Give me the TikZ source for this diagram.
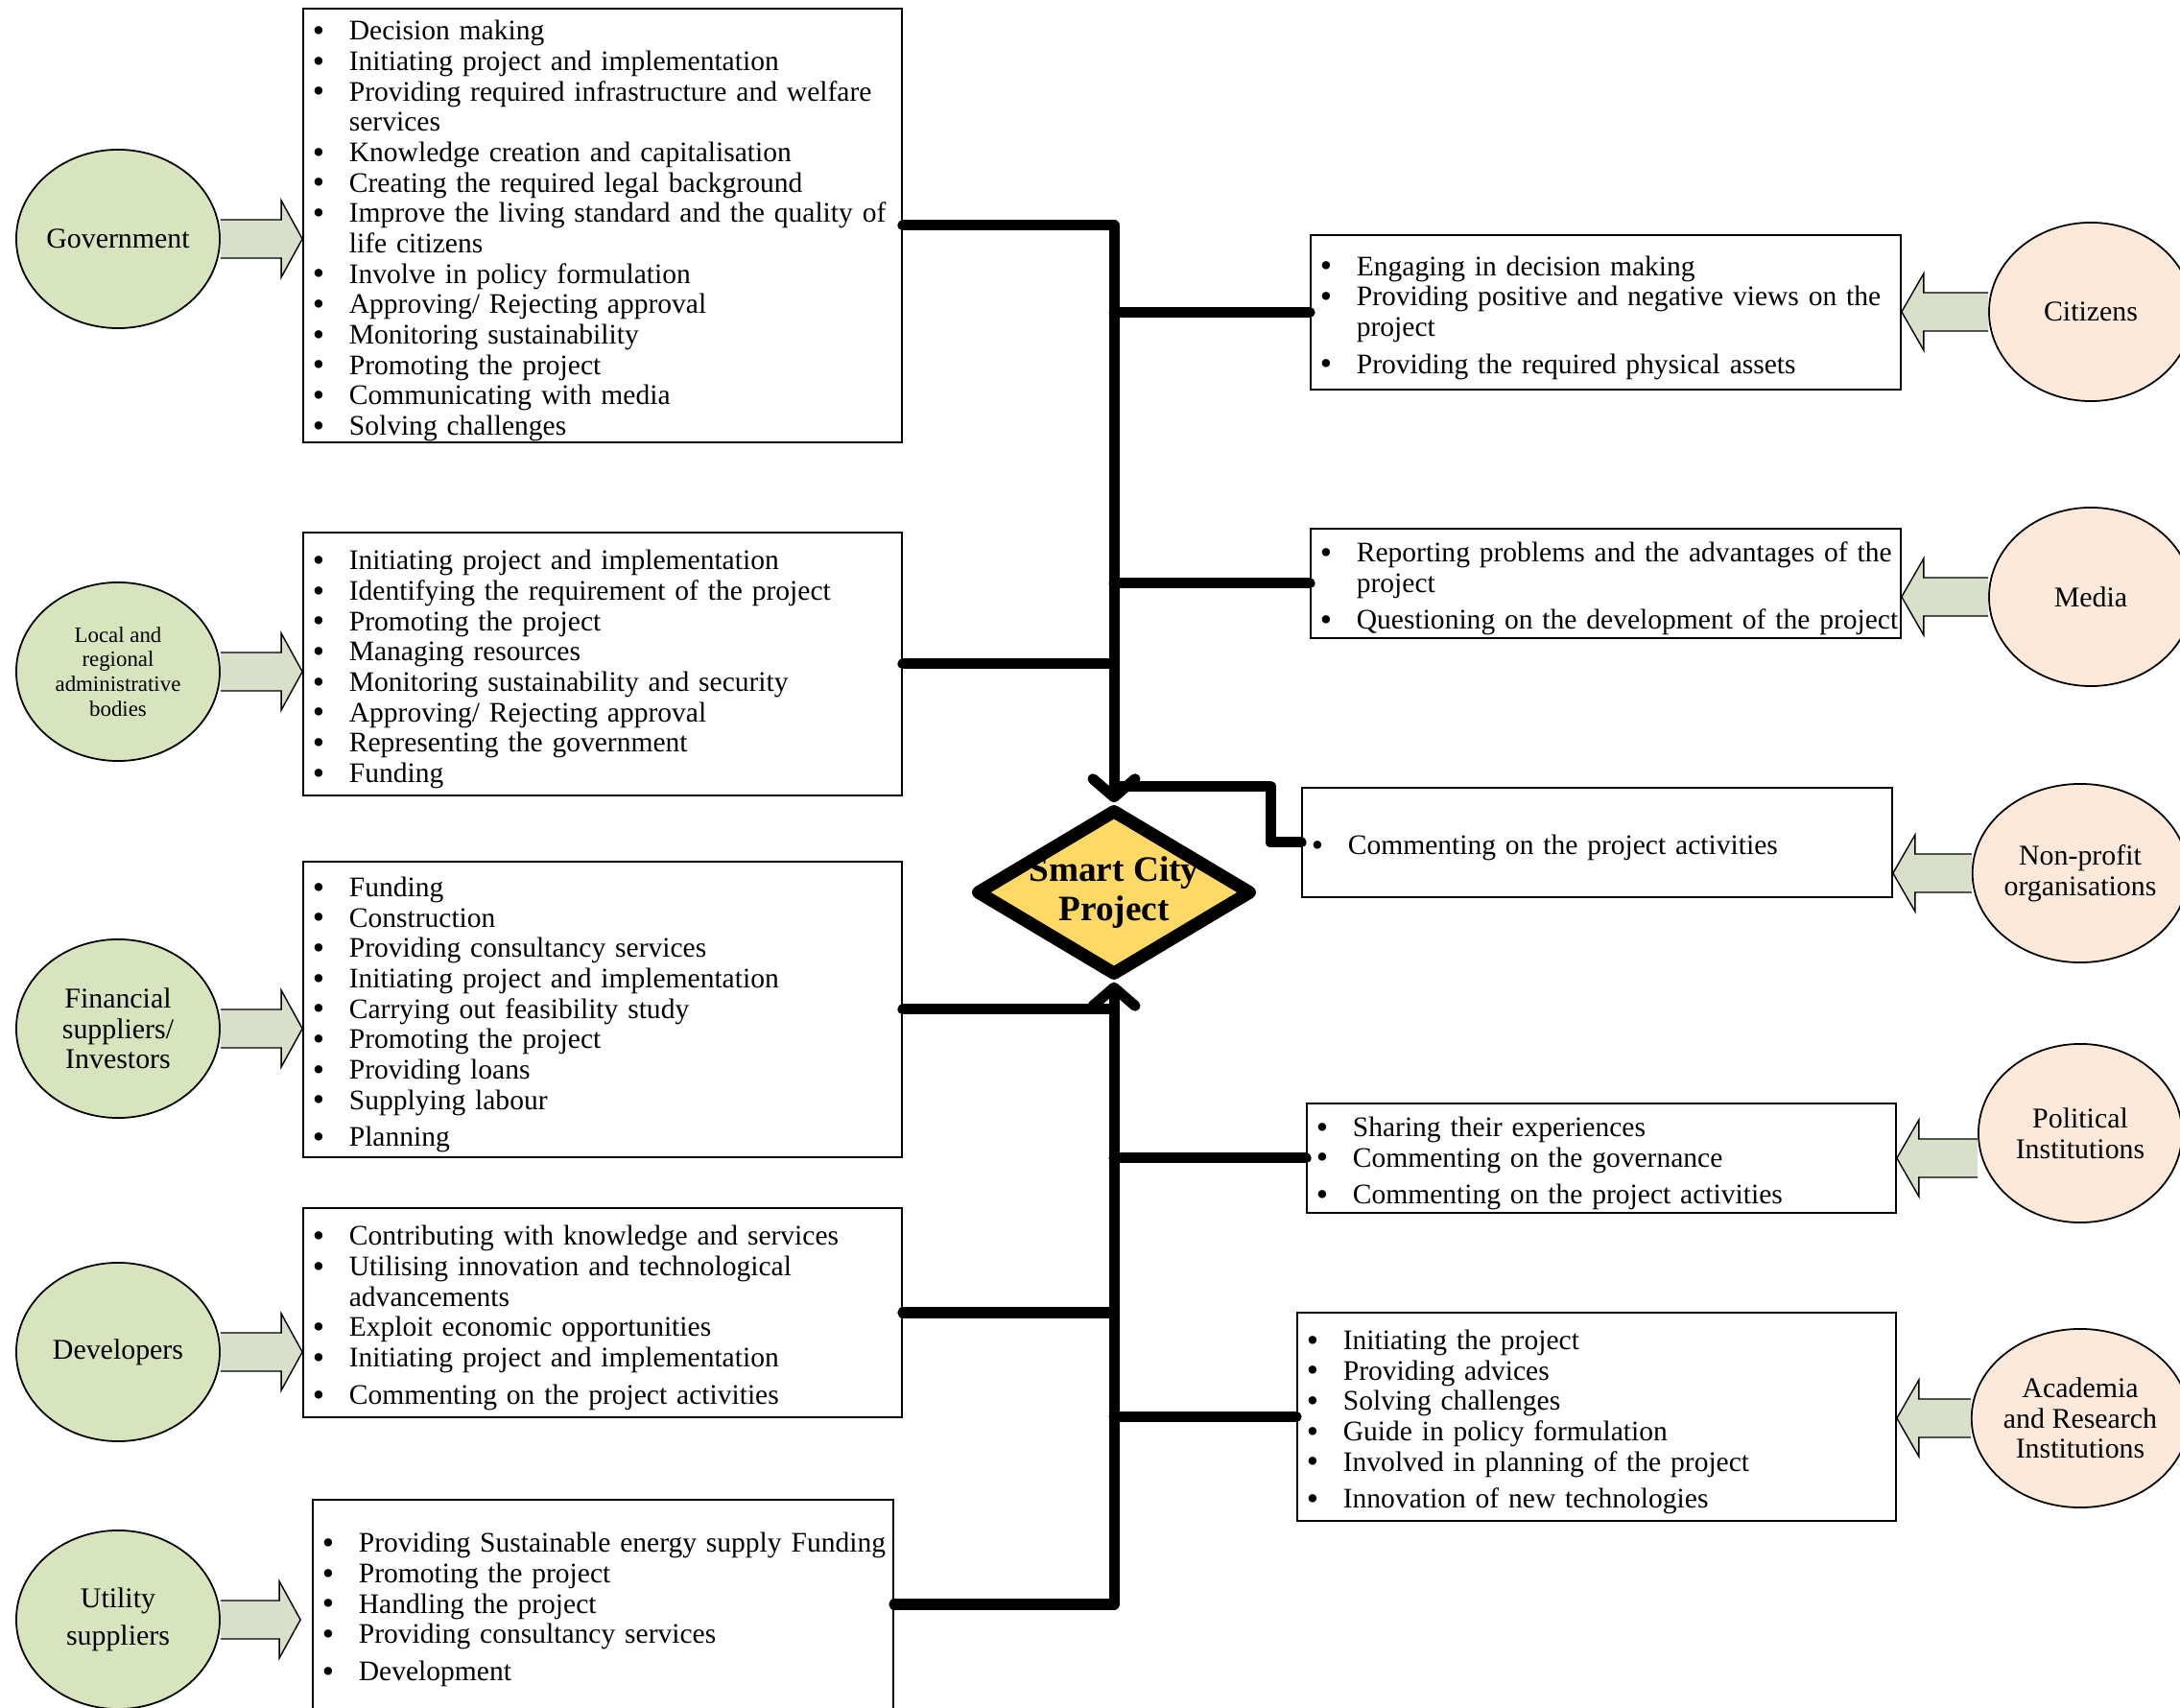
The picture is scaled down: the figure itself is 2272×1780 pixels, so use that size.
\documentclass[tikz,border=0pt]{standalone}
\usepackage{fontspec}
\setmainfont{Liberation Serif}
\usetikzlibrary{arrows.meta, positioning, calc, shapes.geometric}

\definecolor{leftfill}{HTML}{D7E4BD}
\definecolor{rightfill}{HTML}{FDE9D9}
\definecolor{arrowfill}{HTML}{D9E0CA}
\definecolor{projfill}{HTML}{FFD966}

\newcommand{\bitem}[1]{\par\rightskip=-0.5cm plus 1fil\noindent\hangindent=0.48cm\hangafter=1%
  \makebox[0.48cm][l]{\hspace{0.1cm}\smash{\raisebox{-0.5pt}{\fontsize{10}{9}\selectfont\textbullet}}}#1}
\newcommand{\bitemgap}[1]{\par\vspace{2pt}\bitem{#1}}
% block arrow: start, tip, signed offset of the head base from the tip
\newcommand{\fatarrow}[3]{%
  \filldraw[blockarr] ($(#1)+(0,20)$) -- ($(#2)+(#3,20)$) -- ($(#2)+(#3,40)$) -- (#2)
    -- ($(#2)+(#3,-40)$) -- ($(#2)+(#3,-20)$) -- ($(#1)+(0,-20)$);}

\begin{document}
\begin{tikzpicture}[x=0.01cm, y=-0.01cm,
  rolebox/.style={draw, line width=0.4pt, inner sep=0pt, text width=#1,
    font=\fontsize{8.4}{9}\selectfont},
  stakeL/.style={ellipse, draw, line width=0.5pt, fill=leftfill, minimum width=2.12cm,
    minimum height=1.86cm, inner sep=0pt, align=center, font=\fontsize{8.5}{9}\selectfont},
  stakeR/.style={stakeL, fill=rightfill},
  blockarr/.style={fill=arrowfill, draw=black, line width=0.4pt, line join=miter},
  link/.style={line width=0.11cm, line cap=round, line join=round},
  tolink/.style={link, -{Straight Barb[round, length=0.19cm, width=0.44cm]}}]
\useasboundingbox (0,0) rectangle (2272,1780);

% role boxes, left side
\node[rolebox=6.24cm, minimum height=4.52cm] (govbox) at (628,235) {%
  \bitem{Decision making}
  \bitem{Initiating project and implementation}
  \bitem{Providing required infrastructure and welfare\newline services}
  \bitem{Knowledge creation and capitalisation}
  \bitem{Creating the required legal background}
  \bitem{Improve the living standard and the quality of\newline life citizens}
  \bitem{Involve in policy formulation}
  \bitem{Approving/ Rejecting approval}
  \bitem{Monitoring sustainability}
  \bitem{Promoting the project}
  \bitem{Communicating with media}
  \bitem{Solving challenges}};
\node[rolebox=6.24cm, minimum height=2.74cm] (localbox) at (628,692) {%
  \bitem{Initiating project and implementation}
  \bitem{Identifying the requirement of the project}
  \bitem{Promoting the project}
  \bitem{Managing resources}
  \bitem{Monitoring sustainability and security}
  \bitem{Approving/ Rejecting approval}
  \bitem{Representing the government}
  \bitem{Funding}};
\node[rolebox=6.24cm, minimum height=3.08cm] (finbox) at (628,1052) {%
  \bitem{Funding}
  \bitem{Construction}
  \bitem{Providing consultancy services}
  \bitem{Initiating project and implementation}
  \bitem{Carrying out feasibility study}
  \bitem{Promoting the project}
  \bitem{Providing loans}
  \bitem{Supplying labour}
  \bitemgap{Planning}};
\node[rolebox=6.24cm, minimum height=2.18cm] (devbox) at (628,1368) {%
  \bitem{Contributing with knowledge and services}
  \bitem{Utilising innovation and technological\newline advancements}
  \bitem{Exploit economic opportunities}
  \bitem{Initiating project and implementation}
  \bitemgap{Commenting on the project activities}};
\node[rolebox=6.05cm, minimum height=2.18cm] (utilbox) at (628.5,1672) {%
  \bitem{Providing Sustainable energy supply Funding}
  \bitem{Promoting the project}
  \bitem{Handling the project}
  \bitem{Providing consultancy services}
  \bitemgap{Development}};

% role boxes, right side
\node[rolebox=6.15cm, minimum height=1.61cm] (citbox) at (1673.5,325.5) {%
  \bitem{Engaging in decision making}
  \bitem{Providing positive and negative views on the\newline project}
  \bitemgap{Providing the required physical assets}};
\node[rolebox=6.15cm, minimum height=1.14cm] (medbox) at (1673.5,608) {%
  \bitem{Reporting problems and the advantages of the\newline project}
  \bitemgap{Questioning on the development of the project}};
\node[rolebox=6.15cm, minimum height=1.14cm] (npbox) at (1664.5,878) {%
  \bitem{Commenting on the project activities}};
\node[rolebox=6.14cm, minimum height=1.14cm] (polbox) at (1669,1207) {%
  \bitem{Sharing their experiences}
  \bitem{Commenting on the governance}
  \bitemgap{Commenting on the project activities}};
\node[rolebox=6.24cm, minimum height=2.17cm] (acbox) at (1664,1476.5) {%
  \bitem{Initiating the project}
  \bitem{Providing advices}
  \bitem{Solving challenges}
  \bitem{Guide in policy formulation}
  \bitem{Involved in planning of the project}
  \bitemgap{Innovation of new technologies}};

% stakeholders
\node[stakeL] (gov) at (123,249) {Government};
\node[stakeL, font=\fontsize{6.5}{7.3}\selectfont] (local) at (123,700) {Local and\\regional\\administrative\\bodies};
\node[stakeL] (fin) at (123,1072) {Financial\\suppliers/\\Investors};
\node[stakeL] (dev) at (123,1409) {Developers};
\node[stakeL, font=\fontsize{8.5}{11}\selectfont] (util) at (123,1688) {Utility\\suppliers};
\node[stakeR] (cit) at (2179,325) {Citizens};
\node[stakeR] (med) at (2179,622) {Media};
\node[stakeR] (np) at (2168,910) {Non-profit\\organisations};
\node[stakeR] (pol) at (2168,1181) {Political\\Institutions};
\node[stakeR] (ac) at (2168,1478) {Academia\\and Research\\Institutions};

% block arrows
\coordinate (utiltip) at ($(utilbox.west |- util.east)+(-12,0)$);
\fatarrow{gov.east}{govbox.west |- gov.east}{-22}
\fatarrow{local.east}{localbox.west |- local.east}{-22}
\fatarrow{fin.east}{finbox.west |- fin.east}{-22}
\fatarrow{dev.east}{devbox.west |- dev.east}{-22}
\fatarrow{util.east}{utiltip}{-22}
\fatarrow{cit.west}{citbox.east |- cit.west}{23}
\fatarrow{med.west}{medbox.east |- med.west}{23}
\fatarrow{np.west}{npbox.east |- np.west}{23}
\fatarrow{pol.west |- polbox.east}{polbox.east}{23}
\fatarrow{ac.west}{acbox.east |- ac.west}{23}

% project
\node[diamond, draw, fill=projfill, line width=3.8pt, line join=round, aspect=1.67,
  minimum width=2.88cm, minimum height=1.74cm, inner sep=0pt,
  label={[align=center, font=\bfseries\fontsize{10.6}{11.4}\selectfont]center:Smart City\\Project}]
  (proj) at (1161,930) {};

% spine
\draw[tolink] (govbox.east) -| (proj.north);
\draw[tolink] (utilbox.east) -| (proj.south);
\draw[link] (localbox.east) -- (localbox.east -| proj.north);
\draw[link] (finbox.east) -- (finbox.east -| proj.south);
\draw[link] (devbox.east) -- (devbox.east -| proj.south);
\draw[link] (citbox.west -| proj.north) -- (citbox.west);
\draw[link] (medbox.west -| proj.north) -- (medbox.west);
\draw[link] (polbox.west -| proj.south) -- (polbox.west);
\draw[link] (acbox.west -| proj.south) -- (acbox.west);
\draw[link] ($(proj.north)+(0,-17)$) -- ++(163,0) |- (npbox.west);
\end{tikzpicture}
\end{document}
